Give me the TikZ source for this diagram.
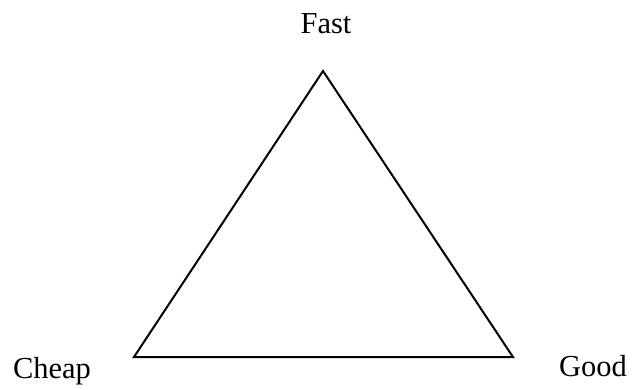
\documentclass[tikz,border=0pt]{standalone}
\usepackage{fontspec}
\setmainfont{Liberation Serif}
\begin{document}
\begin{tikzpicture}[x=1bp,y=-1bp,
  lbl/.style={inner sep=0pt,anchor=base,font=\fontsize{30.5bp}{36bp}\selectfont},
  edge/.style={line width=2bp,line join=miter}]
\useasboundingbox (0,0) rectangle (632,389);
\coordinate (top) at (323,71);
\coordinate (bl) at (134,357);
\coordinate (br) at (513,357);
\draw[edge] (top) -- (bl) -- (br) -- cycle;
\node[lbl] (fast) at (326,33) {Fast};
\node[lbl] (cheap) at (52,378) {Cheap};
\node[lbl] (good) at (593,376) {Good};
\end{tikzpicture}
\end{document}
